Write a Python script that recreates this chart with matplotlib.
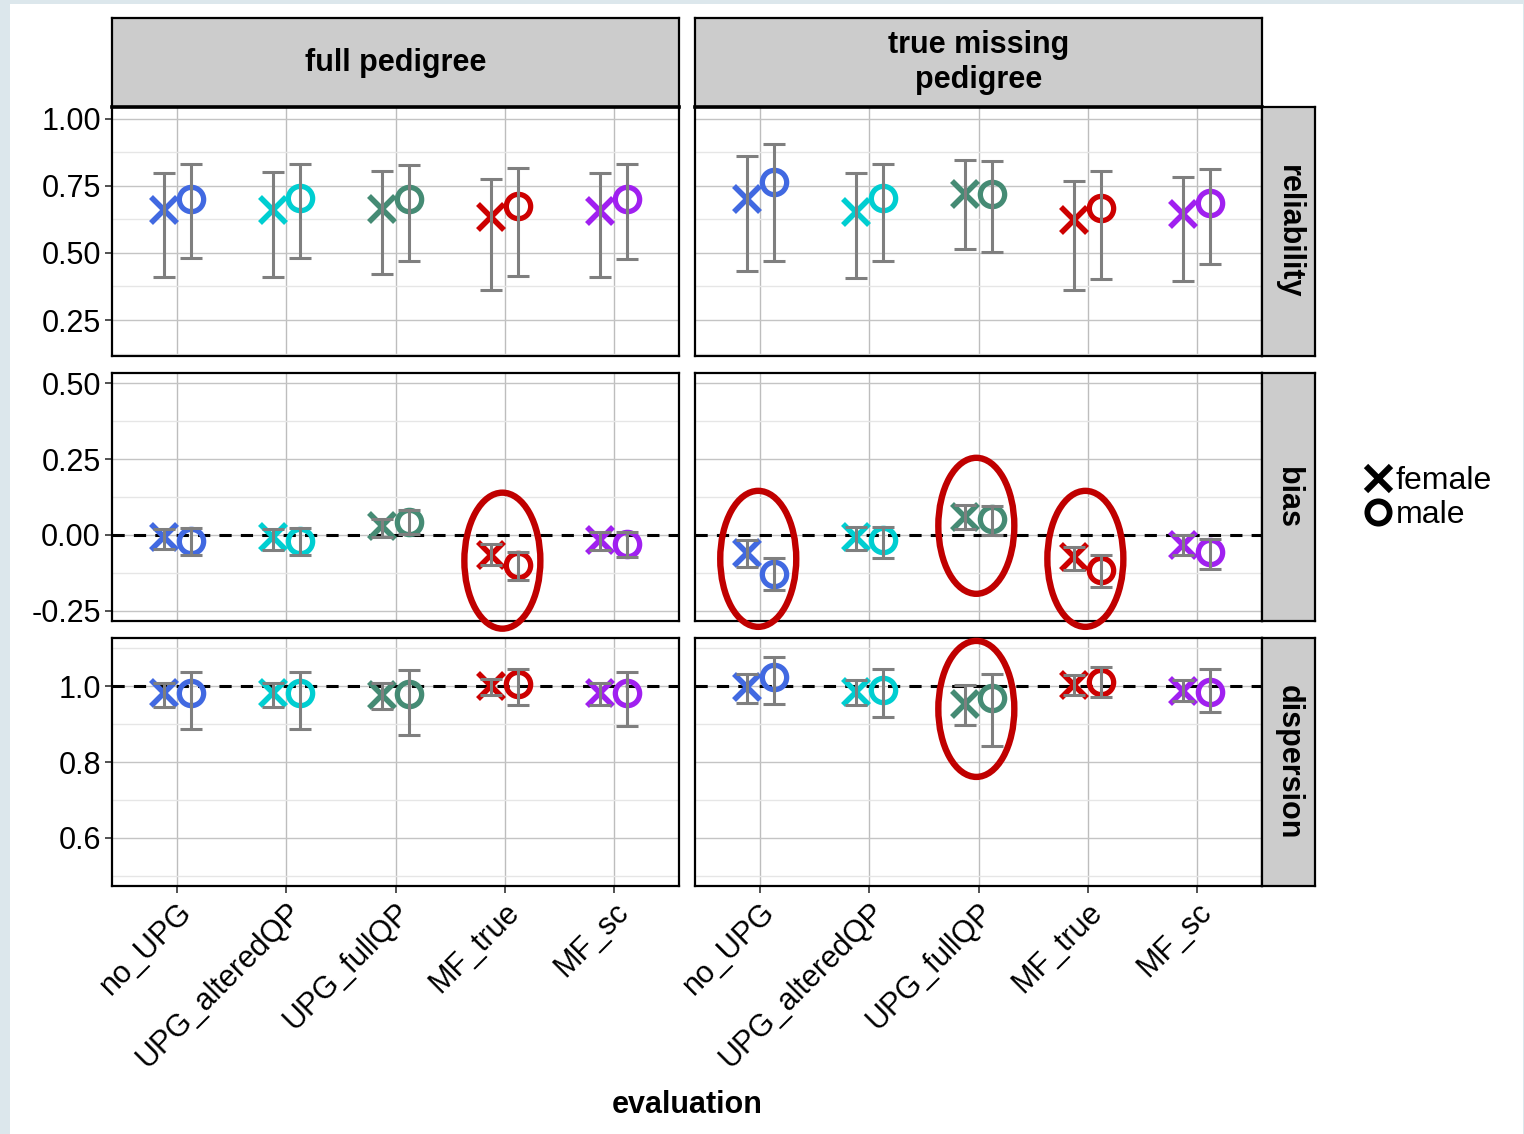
import matplotlib
matplotlib.use("Agg")
import matplotlib.pyplot as plt
from matplotlib.patches import Ellipse, Rectangle
from matplotlib.lines import Line2D
from matplotlib.ticker import FixedLocator, MultipleLocator
import numpy as np

plt.rcParams['font.family'] = ['Liberation Sans', 'DejaVu Sans']

evaluations = ["no_UPG", "UPG_alteredQP", "UPG_fullQP", "MF_true", "MF_sc"]
colors = ["#4169E1", "#00CED1", "#458B74", "#CD0000", "#A020F0"]
panels = ["full pedigree", "true missing\npedigree"]
metrics = ["reliability", "bias", "dispersion"]

# ---- reliability ----
rel_full_f = [0.659, 0.659, 0.665, 0.632, 0.656]
rel_full_f_lo = [0.411, 0.410, 0.423, 0.362, 0.409]
rel_full_f_hi = [0.798, 0.800, 0.806, 0.775, 0.797]
rel_full_m = [0.702, 0.705, 0.699, 0.674, 0.701]
rel_full_m_lo = [0.480, 0.480, 0.468, 0.412, 0.476]
rel_full_m_hi = [0.830, 0.830, 0.826, 0.816, 0.829]

rel_miss_f = [0.702, 0.653, 0.718, 0.624, 0.643]
rel_miss_f_lo = [0.432, 0.408, 0.514, 0.360, 0.397]
rel_miss_f_hi = [0.861, 0.798, 0.847, 0.769, 0.784]
rel_miss_m = [0.762, 0.705, 0.718, 0.667, 0.687]
rel_miss_m_lo = [0.468, 0.468, 0.504, 0.404, 0.458]
rel_miss_m_hi = [0.907, 0.829, 0.841, 0.805, 0.814]

# ---- bias ----
bias_full_f = [-0.007, -0.007, 0.029, -0.065, -0.018]
bias_full_f_lo = [-0.048, -0.051, -0.007, -0.100, -0.051]
bias_full_f_hi = [0.018, 0.018, 0.054, -0.031, 0.010]
bias_full_m = [-0.020, -0.021, 0.043, -0.100, -0.029]
bias_full_m_lo = [-0.067, -0.065, 0.004, -0.148, -0.073]
bias_full_m_hi = [0.022, 0.022, 0.081, -0.055, 0.011]

bias_miss_f = [-0.059, -0.007, 0.059, -0.073, -0.034]
bias_miss_f_lo = [-0.106, -0.051, 0.021, -0.117, -0.067]
bias_miss_f_hi = [-0.018, 0.026, 0.098, -0.040, -0.001]
bias_miss_m = [-0.128, -0.018, 0.054, -0.117, -0.056]
bias_miss_m_lo = [-0.183, -0.075, -0.001, -0.172, -0.113]
bias_miss_m_hi = [-0.075, 0.026, 0.095, -0.065, -0.015]

# ---- dispersion ----
disp_full_f = [0.982, 0.981, 0.976, 1.000, 0.982]
disp_full_f_lo = [0.946, 0.946, 0.939, 0.976, 0.950]
disp_full_f_hi = [1.009, 1.009, 1.009, 1.020, 1.009]
disp_full_m = [0.981, 0.981, 0.979, 1.005, 0.981]
disp_full_m_lo = [0.886, 0.886, 0.871, 0.950, 0.895]
disp_full_m_hi = [1.037, 1.037, 1.042, 1.044, 1.037]

disp_miss_f = [0.998, 0.985, 0.953, 1.004, 0.987]
disp_miss_f_lo = [0.956, 0.949, 0.898, 0.976, 0.961]
disp_miss_f_hi = [1.033, 1.016, 1.003, 1.029, 1.016]
disp_miss_m = [1.025, 0.989, 0.968, 1.011, 0.985]
disp_miss_m_lo = [0.953, 0.919, 0.842, 0.972, 0.932]
disp_miss_m_hi = [1.077, 1.046, 1.033, 1.051, 1.044]

data = {
    ("reliability", 0): (rel_full_f, rel_full_f_lo, rel_full_f_hi, rel_full_m, rel_full_m_lo, rel_full_m_hi),
    ("reliability", 1): (rel_miss_f, rel_miss_f_lo, rel_miss_f_hi, rel_miss_m, rel_miss_m_lo, rel_miss_m_hi),
    ("bias", 0): (bias_full_f, bias_full_f_lo, bias_full_f_hi, bias_full_m, bias_full_m_lo, bias_full_m_hi),
    ("bias", 1): (bias_miss_f, bias_miss_f_lo, bias_miss_f_hi, bias_miss_m, bias_miss_m_lo, bias_miss_m_hi),
    ("dispersion", 0): (disp_full_f, disp_full_f_lo, disp_full_f_hi, disp_full_m, disp_full_m_lo, disp_full_m_hi),
    ("dispersion", 1): (disp_miss_f, disp_miss_f_lo, disp_miss_f_hi, disp_miss_m, disp_miss_m_lo, disp_miss_m_hi),
}

ylims = {"reliability": (0.116, 1.043), "bias": (-0.284, 0.534), "dispersion": (0.473, 1.127)}
yticks = {"reliability": [0.25, 0.50, 0.75, 1.00], "bias": [-0.25, 0.0, 0.25, 0.50], "dispersion": [0.6, 0.8, 1.0]}
yticklabels = {"reliability": ["0.25", "0.50", "0.75", "1.00"], "bias": ["-0.25", "0.00", "0.25", "0.50"],
               "dispersion": ["0.6", "0.8", "1.0"]}
yminor = {"reliability": 0.125, "bias": 0.125, "dispersion": 0.1}
refline = {"bias": 0.0, "dispersion": 1.0}

# highlighted cells (metric, panel, evaluation index, ellipse centre y)
highlights = [("bias", 0, 3, -0.085), ("bias", 1, 0, -0.079), ("bias", 1, 2, 0.030),
              ("bias", 1, 3, -0.079), ("dispersion", 1, 2, 0.940)]

W, H = 1524, 1134
fig = plt.figure(figsize=(W / 100, H / 100), dpi=100)
fig.patch.set_facecolor("#dce7ec")
fig.add_artist(Rectangle((10 / W, 0), (W - 11) / W, (H - 4) / H, transform=fig.transFigure,
                         facecolor="white", edgecolor="none", zorder=0))

px_x = [(112, 679), (695, 1262)]
px_y = {"reliability": (107, 356), "bias": (373, 621), "dispersion": (638, 886)}

def fax(x0, y0, x1, y1):
    return fig.add_axes([x0 / W, 1 - y1 / H, (x1 - x0) / W, (y1 - y0) / H])

dodge = 0.125
xs = np.arange(len(evaluations))
fs = 22
axes = {}
for metric in metrics:
    for p in range(2):
        x0, x1 = px_x[p]
        y0, y1 = px_y[metric]
        ax = fax(x0, y0, x1, y1)
        axes[(metric, p)] = ax
        ax.set_xlim(-0.6, len(evaluations) - 0.4)
        ax.set_ylim(*ylims[metric])
        ax.set_facecolor("white")
        for s in ax.spines.values():
            s.set_linewidth(1.6)
            s.set_color("black")
        ax.yaxis.set_major_locator(FixedLocator(yticks[metric]))
        ax.yaxis.set_minor_locator(MultipleLocator(yminor[metric]))
        ax.set_xticks(xs)
        ax.grid(True, which="major", axis="y", color="#c4c4c4", lw=1.0, zorder=0)
        ax.grid(True, which="minor", axis="y", color="#e6e6e6", lw=1.0, zorder=0)
        ax.grid(True, which="major", axis="x", color="#bdbdbd", lw=1.0, zorder=0)
        ax.set_axisbelow(True)
        ax.tick_params(axis="y", which="minor", length=0)
        ax.tick_params(axis="both", which="major", length=5, width=1.2, color="#333333",
                       labelsize=fs, pad=3)
        if p == 0:
            ax.set_yticklabels(yticklabels[metric])
        else:
            ax.tick_params(axis="y", length=0, labelleft=False)
        if metric == "dispersion":
            ax.set_xticklabels(evaluations, rotation=45, ha="right", rotation_mode="anchor")
        else:
            ax.tick_params(axis="x", length=0, labelbottom=False)
        if metric in refline:
            ax.axhline(refline[metric], color="black", lw=2.2, ls=(0, (4, 3)), zorder=2)

        f, flo, fhi, m, mlo, mhi = data[(metric, p)]
        f = np.array(f); flo = np.array(flo); fhi = np.array(fhi)
        m = np.array(m); mlo = np.array(mlo); mhi = np.array(mhi)
        for i in range(len(evaluations)):
            ax.plot(xs[i] - dodge, f[i], marker="x", ms=19, mew=4.0, color=colors[i], ls="none", zorder=3)
            ax.plot(xs[i] + dodge, m[i], marker="o", ms=17.5, mew=3.8, mfc="none", mec=colors[i], ls="none", zorder=3)
        ax.errorbar(xs - dodge, f, yerr=[f - flo, fhi - f], fmt="none", ecolor="#7f7f7f",
                    elinewidth=2.2, capsize=8, capthick=2.2, zorder=4)
        ax.errorbar(xs + dodge, m, yerr=[m - mlo, mhi - m], fmt="none", ecolor="#7f7f7f",
                    elinewidth=2.2, capsize=8, capthick=2.2, zorder=4)

# highlight ellipses (annotation)
for metric, p, i, cy in highlights:
    ax = axes[(metric, p)]
    x0, x1 = px_x[p]
    y0, y1 = px_y[metric]
    ppx = (len(evaluations)) / (x1 - x0) * 1.04
    ppy = (ylims[metric][1] - ylims[metric][0]) / (y1 - y0)
    e = Ellipse((xs[i] - 0.02, cy), width=76 * ppx, height=136 * ppy,
                fill=False, edgecolor="#c00000", lw=4.6, clip_on=False, zorder=6)
    ax.add_patch(e)

# strips
def strip(x0, y0, x1, y1, text, rot=0, thick_bottom=False):
    a = fax(x0, y0, x1, y1)
    a.set_facecolor("#cccccc")
    a.set_xticks([]); a.set_yticks([])
    for s in a.spines.values():
        s.set_linewidth(1.6)
        s.set_color("black")
    if thick_bottom:
        a.spines["bottom"].set_linewidth(2.6)
    a.text(0.5, 0.5, text, ha="center", va="center", rotation=rot, fontsize=fs,
           fontweight="bold", transform=a.transAxes, linespacing=1.2)
    return a

for p in range(2):
    strip(px_x[p][0], 18, px_x[p][1], 107, panels[p], thick_bottom=True)
for metric in metrics:
    y0, y1 = px_y[metric]
    strip(1262, y0, 1315, y1, metric, rot=-90)

fig.text(687 / W, 1 - 1105 / H, "evaluation", ha="center", va="center", fontsize=fs, fontweight="bold")

handles = [Line2D([], [], marker="x", color="black", ls="none", ms=18, mew=4.4),
           Line2D([], [], marker="o", mfc="none", mec="black", ls="none", ms=16, mew=4.2)]
fig.legend(handles, ["female", "male"], loc="center left", bbox_to_anchor=(1364 / W, 1 - 498 / H),
           frameon=False, fontsize=23, handlelength=0.9, handletextpad=0.1, labelspacing=0.12,
           borderpad=0, borderaxespad=0)

fig.savefig("out.png", dpi=100, facecolor=fig.get_facecolor())
